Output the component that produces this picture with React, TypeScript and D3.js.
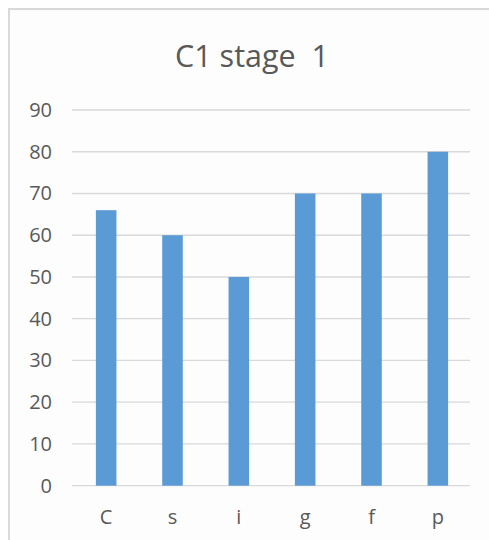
import React from "react";
import * as d3 from "d3";

const title = "C1 stage\u00a0\u00a01";
const categories = ["C", "s", "i", "g", "f", "p"];
const values = [66, 60, 50, 70, 70, 80];
const yTicks = [0, 10, 20, 30, 40, 50, 60, 70, 80, 90];

const W = 489;
const H = 540;

export default function App() {
  const x = d3
    .scaleBand<string>()
    .domain(categories)
    .range([73, 471])
    .paddingInner(0.69)
    .paddingOuter(0.345);
  const y = d3.scaleLinear().domain([0, 90]).range([485.7, 110]);
  const font = "'Open Sans', 'Noto Sans', sans-serif";
  const textColor = "#595959";

  return (
    <svg
      width={W}
      height={H}
      style={{ position: "absolute", left: 0, top: 0, display: "block" }}
    >
      <rect x={0} y={0} width={W} height={H} fill="#ffffff" />
      <rect x={9} y={9} width={W} height={H} fill="#fdfdfd" stroke="#d9d9d9" strokeWidth={2} />
      <text
        x={252}
        y={67}
        textAnchor="middle"
        fontFamily={font}
        fontSize={30.5}
        fill={textColor}
      >
        {title}
      </text>
      {yTicks.map((t) => (
        <g key={t}>
          <line
            x1={72}
            x2={470}
            y1={y(t)}
            y2={y(t)}
            stroke="#d9d9d9"
            strokeWidth={1.3}
          />
          <text
            x={52}
            y={y(t) + 7}
            textAnchor="end"
            fontFamily={font}
            fontSize={20}
            fill={textColor}
          >
            {t}
          </text>
        </g>
      ))}
      {categories.map((c, i) => (
        <rect
          key={c}
          x={x(c)}
          y={y(values[i])}
          width={x.bandwidth()}
          height={y(0) - y(values[i])}
          fill="#5b9bd5"
        />
      ))}
      {categories.map((c) => (
        <text
          key={c}
          x={(x(c) as number) + x.bandwidth() / 2}
          y={524}
          textAnchor="middle"
          fontFamily={font}
          fontSize={20}
          fill={textColor}
        >
          {c}
        </text>
      ))}
    </svg>
  );
}
